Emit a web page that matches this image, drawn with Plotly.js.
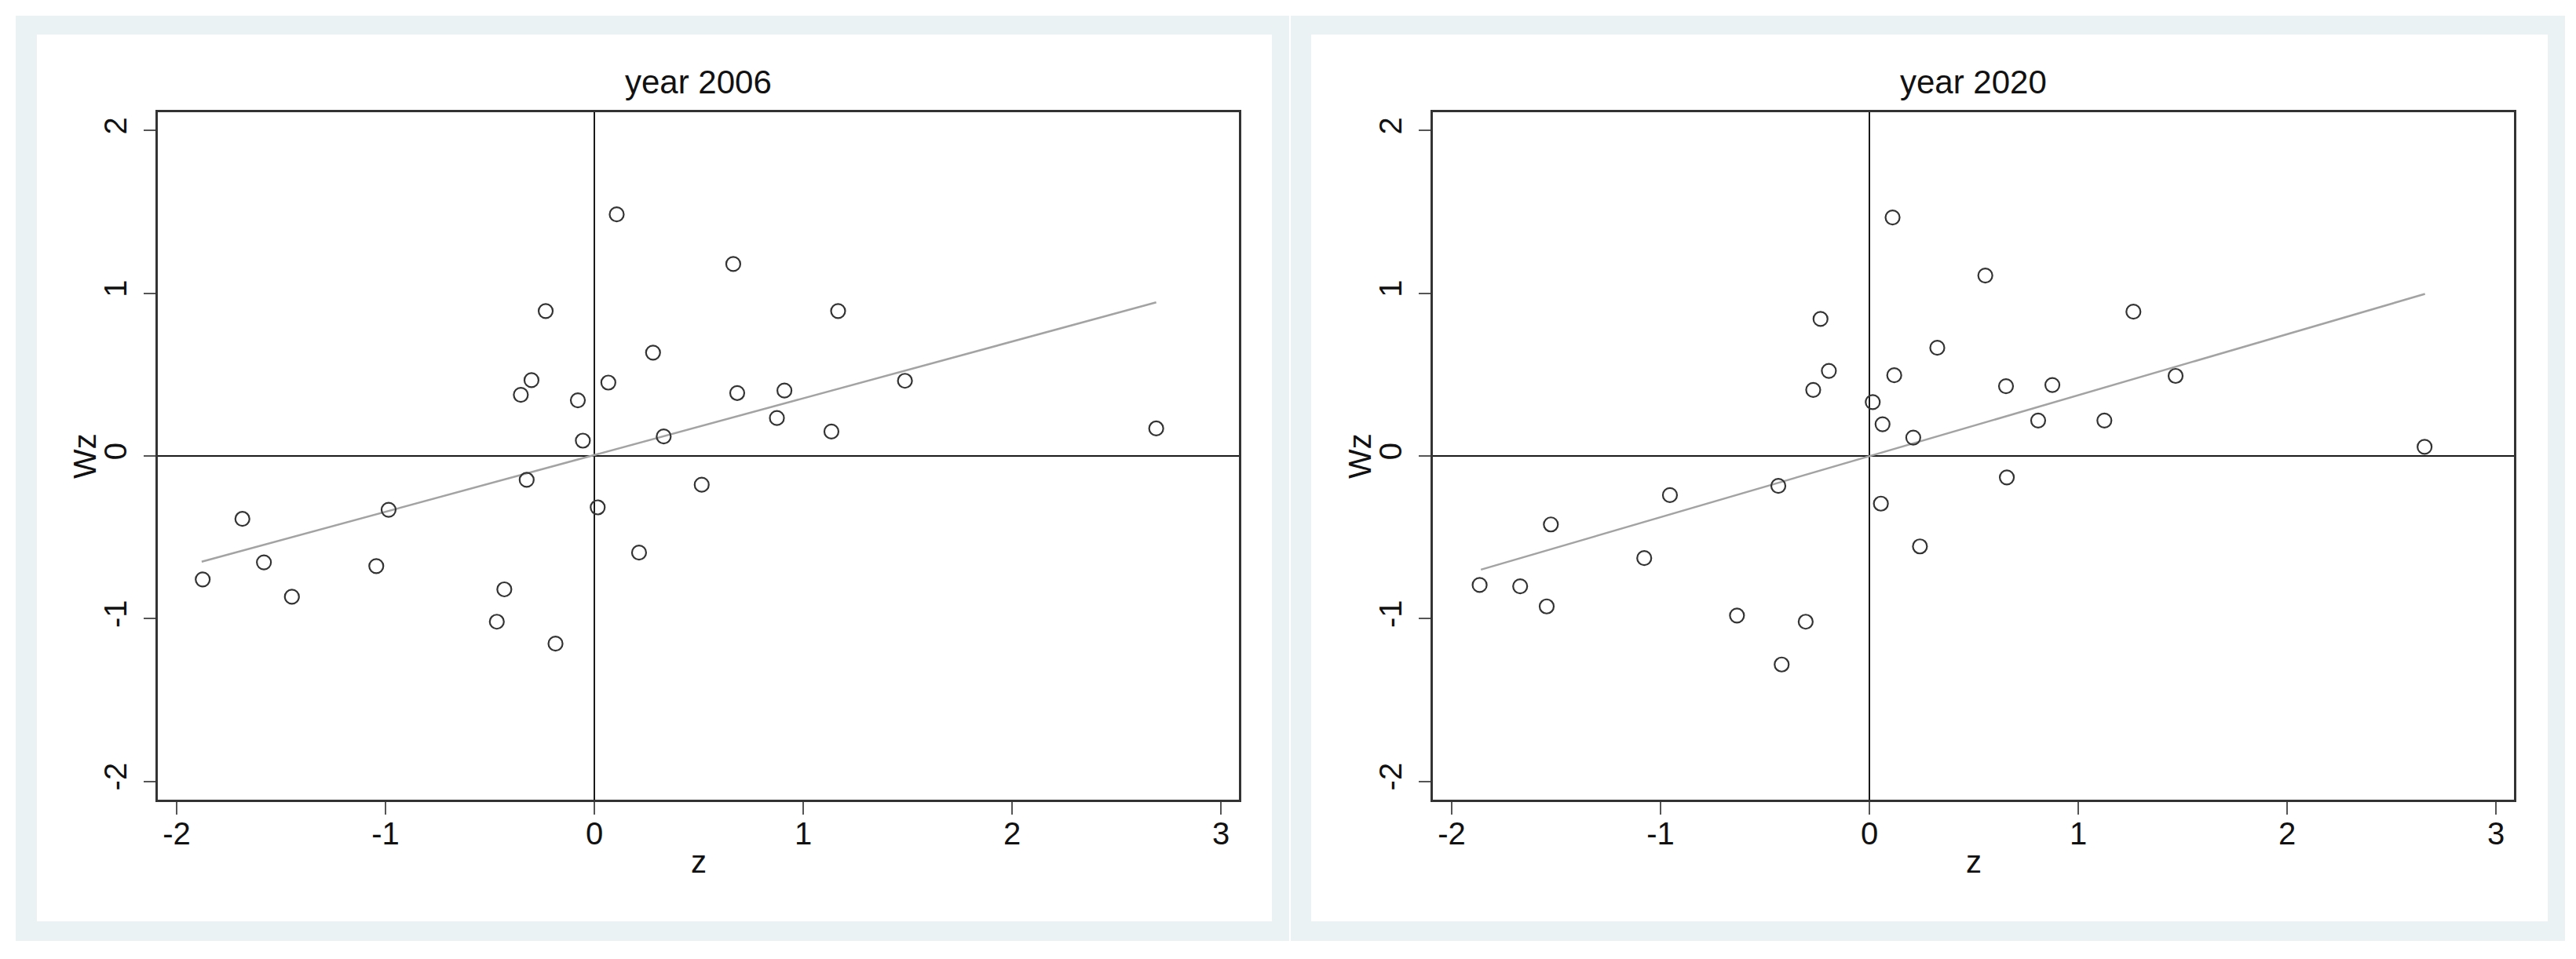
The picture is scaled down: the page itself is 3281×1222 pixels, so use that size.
<!DOCTYPE html>
<html>
<head>
<meta charset="utf-8">
<script src="https://cdn.plot.ly/plotly-3.0.1.min.js"></script>
<style>
  html, body { margin: 0; padding: 0; background: #fff; }
  #chart { width: 3281px; height: 1222px; }
</style>
</head>
<body>
<div id="chart"></div>
<script>
// Moran scatter data: z and spatial lag Wz
var z2006 = [0.107, 0.665, -0.233, 1.167, 0.281, -0.301, -0.352, 0.067, 1.487, 0.684,
             0.910, -0.079, -0.055, 0.332, 0.874, 1.135, 2.690, -0.324, 0.514, 0.016,
             -0.985, -1.685, -1.582, -1.875, -1.448, -1.044, 0.214, -0.431, -0.467, -0.186];
var wz2006 = [1.485, 1.180, 0.891, 0.891, 0.635, 0.466, 0.376, 0.451, 0.462, 0.387,
              0.402, 0.342, 0.094, 0.120, 0.233, 0.150, 0.169, -0.147, -0.177, -0.316,
              -0.331, -0.387, -0.654, -0.759, -0.865, -0.677, -0.594, -0.820, -1.019, -1.154];

var z2020 = [0.111, 0.555, 1.264, -0.234, 0.325, -0.194, 0.119, 1.466, -0.269, 0.654,
             0.876, 0.016, 0.063, 0.808, 1.125, 0.210, 2.658, -0.436, 0.658, -0.955,
             0.055, -1.525, -1.078, 0.242, -1.866, -1.672, -1.545, -0.634, -0.305, -0.420];
var wz2020 = [1.466, 1.109, 0.887, 0.842, 0.665, 0.523, 0.496, 0.492, 0.406, 0.429,
              0.436, 0.331, 0.195, 0.218, 0.218, 0.113, 0.056, -0.184, -0.132, -0.241,
              -0.293, -0.421, -0.628, -0.556, -0.793, -0.801, -0.925, -0.981, -1.019, -1.282];

// fitted lines, end points as drawn
var fitX2006 = [-1.88, 2.69];
var fitY2006 = [-0.650, 0.944];
var fitX2020 = [-1.86, 2.66];
var fitY2020 = [-0.699, 0.996];

var xTicks = [-2, -1, 0, 1, 2, 3];
var yTicks = [-2, -1, 0, 1, 2];
var panelTitles = ['year 2006', 'year 2020'];

var W = 3281, H = 1222;
function px(v) { return v / W; }
function py(v) { return 1 - v / H; }

var FONT = '"Liberation Sans", Arial, sans-serif';

function markers(x, y, xa, ya) {
  return {
    x: x, y: y, xaxis: xa, yaxis: ya,
    type: 'scatter', mode: 'markers',
    marker: {symbol: 'circle-open', size: 18, color: '#333', line: {width: 2.2, color: '#333'}},
    hoverinfo: 'x+y', showlegend: false
  };
}
function fit(x, y, xa, ya) {
  return {
    x: x, y: y, xaxis: xa, yaxis: ya,
    type: 'scatter', mode: 'lines',
    line: {color: '#a3a3a3', width: 2.5},
    hoverinfo: 'skip', showlegend: false
  };
}

var data = [
  fit(fitX2006, fitY2006, 'x', 'y'),
  markers(z2006, wz2006, 'x', 'y'),
  fit(fitX2020, fitY2020, 'x2', 'y2'),
  markers(z2020, wz2020, 'x2', 'y2')
];

function xaxisDef(dom, anchor) {
  return {
    domain: dom, anchor: anchor,
    range: [-2.09, 3.086],
    tickvals: xTicks, ticktext: xTicks.map(String),
    ticks: 'outside', ticklen: 16, tickwidth: 2, tickcolor: '#555',
    ticklabelstandoff: -10,
    tickfont: {family: FONT, size: 40, color: '#111'},
    showgrid: false,
    zeroline: true, zerolinecolor: '#1a1a1a', zerolinewidth: 2,
    showline: true, mirror: true, linecolor: '#333', linewidth: 3,
    fixedrange: true
  };
}
function yaxisDef(anchor) {
  return {
    domain: [py(1019), py(143)], anchor: anchor,
    range: [-2.113, 2.113],
    tickvals: yTicks, ticktext: yTicks.map(String),
    tickangle: -90,
    ticks: 'outside', ticklen: 15, tickwidth: 2, tickcolor: '#555',
    ticklabelstandoff: 6,
    tickfont: {family: FONT, size: 40, color: '#111'},
    showgrid: false,
    zeroline: true, zerolinecolor: '#1a1a1a', zerolinewidth: 2,
    showline: true, mirror: true, linecolor: '#333', linewidth: 3,
    fixedrange: true
  };
}

var bandColor = 'rgb(234,242,243)';
function rect(x0, y0, x1, y1, color) {
  return {type: 'rect', xref: 'paper', yref: 'paper', layer: 'below',
          x0: px(x0), x1: px(x1), y0: py(y1), y1: py(y0),
          fillcolor: color, line: {width: 0}};
}

function label(text, x, y, size, angle) {
  return {text: text, xref: 'paper', yref: 'paper', x: px(x), y: py(y),
          xanchor: 'center', yanchor: 'middle', showarrow: false, textangle: angle || 0,
          font: {family: FONT, size: size, color: '#111'}};
}

var layout = {
  width: W, height: H,
  margin: {l: 0, r: 0, t: 0, b: 0},
  paper_bgcolor: '#ffffff',
  plot_bgcolor: 'rgba(0,0,0,0)',
  showlegend: false,
  xaxis: xaxisDef([px(201), px(1578)], 'y'),
  yaxis: yaxisDef('x'),
  xaxis2: xaxisDef([px(1825), px(3202)], 'y2'),
  yaxis2: yaxisDef('x2'),
  shapes: [
    rect(20, 20, 1642, 1199, bandColor),
    rect(47, 44, 1620, 1174, '#ffffff'),
    rect(1644, 20, 3267, 1199, bandColor),
    rect(1670, 44, 3245, 1174, '#ffffff')
  ],
  annotations: [
    label(panelTitles[0], 889.5, 104, 42),
    label(panelTitles[1], 2513.5, 104, 42),
    label('z', 889.5, 1098, 40),
    label('z', 2513.5, 1098, 40),
    label('Wz', 108, 581, 40, -90),
    label('Wz', 1732, 581, 40, -90)
  ]
};

Plotly.newPlot('chart', data, layout, {displayModeBar: false, staticPlot: true});
</script>
</body>
</html>
